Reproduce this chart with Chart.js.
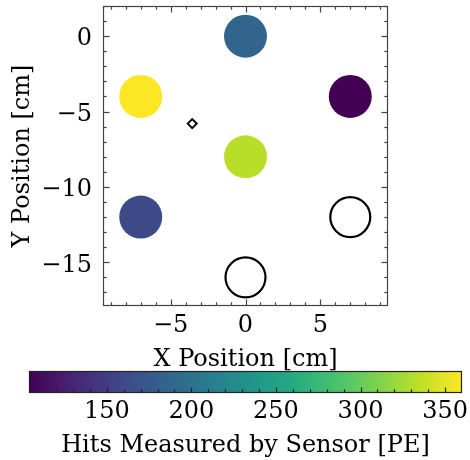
<!DOCTYPE html>
<html><head><meta charset="utf-8">
<script src="https://cdn.jsdelivr.net/npm/chart.js@4/dist/chart.umd.min.js"></script>
<style>
html,body{margin:0;padding:0;background:#fff;}
#wrap{position:relative;width:470px;height:460px;overflow:hidden;background:#fff;}
canvas{position:absolute;left:0;}
</style></head><body>
<div id="wrap">
<canvas id="main" width="470" height="380" style="top:0px"></canvas>
<canvas id="cbar" width="470" height="100" style="top:360px"></canvas>
</div>
<script>
// ---- data ----
const sensorX = [0, -7, 7, 0, -7];
const sensorY = [0, -4, -4, -8, -12];
const sensorHits = [187, 360, 104, 333, 161];
const emptyX = [7, 0];
const emptyY = [-12, -16];
const markerX = [-3.56];
const markerY = [-5.8];
const xTicks = [-5, 0, 5];
const yTicks = [0, -5, -10, -15];
const cbTicks = [150, 200, 250, 300, 350];
const xRange = [-9.52, 9.52];
const yRange = [-17.9, 2.0];
const xMinorStep = 1, yMinorStep = 1, cbMinorStep = 10;

// ---- colormap ----
const VIRIDIS = ['#440154','#482475','#414487','#355f8d','#2a788e','#21918c','#22a884','#44bf70','#7ad151','#bddf26','#fde725'];
function hexRgb(h){return [parseInt(h.slice(1,3),16),parseInt(h.slice(3,5),16),parseInt(h.slice(5,7),16)];}
function viridis(t){
  t=Math.max(0,Math.min(1,t));
  const n=VIRIDIS.length-1;
  const i=Math.min(n-1,Math.floor(t*n));
  const f=t*n-i;
  const a=hexRgb(VIRIDIS[i]), b=hexRgb(VIRIDIS[i+1]);
  const c=a.map((v,k)=>Math.round(v+(b[k]-v)*f));
  return `rgb(${c[0]},${c[1]},${c[2]})`;
}
const hMin = Math.min(...sensorHits), hMax = Math.max(...sensorHits);

const FONT = {family:"'DejaVu Serif', serif", size:24, lineHeight:1.2};
const fmt = v => (v<0 ? '\u2212'+Math.abs(v) : String(v));

function drawTick(ctx,x1,y1,x2,y2){ctx.beginPath();ctx.moveTo(x1,y1);ctx.lineTo(x2,y2);ctx.stroke();}

const framePlugin = {
  id:'frame',
  afterDraw(chart){
    const {ctx, chartArea:a, scales:{x,y}} = chart;
    ctx.save();
    ctx.strokeStyle='#444'; ctx.lineWidth=1.2;
    const L=Math.round(a.left)+0.5, R=Math.round(a.right)-0.5, T=Math.round(a.top)+0.5, B=Math.round(a.bottom)-0.5;
    ctx.strokeRect(L,T,R-L,B-T);
    const MAJ=6, MIN=3.2;
    for(let v=Math.ceil(x.min/xMinorStep)*xMinorStep; v<=x.max; v+=xMinorStep){
      const px=Math.round(x.getPixelForValue(v))+0.5;
      const len = xTicks.includes(v)?MAJ:MIN;
      drawTick(ctx,px,B,px,B-len); drawTick(ctx,px,T,px,T+len);
    }
    for(let v=Math.ceil(y.min/yMinorStep)*yMinorStep; v<=y.max; v+=yMinorStep){
      const py=Math.round(y.getPixelForValue(v))+0.5;
      const len = yTicks.includes(v)?MAJ:MIN;
      drawTick(ctx,L,py,L+len,py); drawTick(ctx,R,py,R-len,py);
    }
    ctx.restore();
  }
};

function noPad(s){s.paddingTop=0;s.paddingBottom=0;s.paddingLeft=0;s.paddingRight=0;}

new Chart(document.getElementById('main'), {
  type:'scatter',
  data:{datasets:[
    {data: sensorX.map((v,i)=>({x:v,y:sensorY[i]})),
     backgroundColor: sensorHits.map(h=>viridis((h-hMin)/(hMax-hMin))),
     borderWidth:0, pointRadius:21.5, pointHoverRadius:21.5},
    {data: emptyX.map((v,i)=>({x:v,y:emptyY[i]})),
     backgroundColor:'rgba(0,0,0,0)', borderColor:'#000', borderWidth:2.2, pointRadius:20, pointHoverRadius:20},
    {data: markerX.map((v,i)=>({x:v,y:markerY[i]})),
     pointStyle:'rectRot', backgroundColor:'#fff', borderColor:'#000', borderWidth:2, pointRadius:4.5, pointHoverRadius:4.5}
  ]},
  options:{
    responsive:false, animation:false, devicePixelRatio:1, events:[],
    layout:{autoPadding:false, padding:{top:6,right:82,left:0,bottom:0}},
    plugins:{legend:{display:false}, tooltip:{enabled:false}},
    scales:{
      x:{type:'linear', min:xRange[0], max:xRange[1],
         afterFit(s){s.height=74; noPad(s);},
         afterBuildTicks(s){s.ticks=xTicks.map(v=>({value:v}));},
         grid:{display:false, drawTicks:false}, border:{display:false},
         ticks:{font:FONT, color:'#000', padding:5.6, maxRotation:0, autoSkip:false, callback:fmt},
         title:{display:true, text:'X Position [cm]', font:FONT, color:'#000', padding:{top:0,bottom:6}}},
      y:{type:'linear', min:yRange[0], max:yRange[1],
         afterFit(s){s.width=103; noPad(s);},
         afterBuildTicks(s){s.ticks=yTicks.map(v=>({value:v}));},
         grid:{display:false, drawTicks:false}, border:{display:false},
         ticks:{font:FONT, color:'#000', padding:11, labelOffset:3, autoSkip:false, callback:fmt},
         title:{display:true, text:'Y Position [cm]', font:FONT, color:'#000', padding:{top:8,bottom:0}}}
    }
  },
  plugins:[framePlugin]
});

const cbarPlugin = {
  id:'cbar',
  beforeDatasetsDraw(chart){
    const {ctx, chartArea:a, scales:{x}} = chart;
    ctx.save();
    const g = ctx.createLinearGradient(a.left,0,a.right,0);
    VIRIDIS.forEach((c,i)=>g.addColorStop(i/(VIRIDIS.length-1),c));
    ctx.fillStyle=g;
    ctx.fillRect(a.left,a.top,a.right-a.left,a.bottom-a.top);
    ctx.strokeStyle='#222'; ctx.lineWidth=1.2;
    const L=Math.round(a.left)+0.5, R=Math.round(a.right)-0.5, T=Math.round(a.top)+0.5, B=Math.round(a.bottom)-0.5;
    ctx.strokeRect(L,T,R-L,B-T);
    for(let v=Math.ceil(x.min/cbMinorStep)*cbMinorStep; v<x.max; v+=cbMinorStep){
      const px=Math.round(x.getPixelForValue(v))+0.5;
      const len = cbTicks.includes(v)?5:3.2;
      drawTick(ctx,px,B,px,B-len);
    }
    ctx.restore();
  }
};

new Chart(document.getElementById('cbar'), {
  type:'scatter',
  data:{datasets:[{data:[]}]},
  options:{
    responsive:false, animation:false, devicePixelRatio:1, events:[],
    layout:{autoPadding:false, padding:{top:11,right:8,left:29,bottom:0}},
    plugins:{legend:{display:false}, tooltip:{enabled:false}},
    scales:{
      x:{type:'linear', min:hMin, max:hMax,
         afterFit(s){s.height=67; noPad(s);},
         afterBuildTicks(s){s.ticks=cbTicks.map(v=>({value:v}));},
         grid:{display:false, drawTicks:false}, border:{display:false},
         ticks:{font:FONT, color:'#000', padding:4.3, maxRotation:0, autoSkip:false},
         title:{display:true, text:'Hits Measured by Sensor [PE]', font:FONT, color:'#000', padding:{top:0,bottom:0}}},
      y:{display:false, min:0, max:1}
    }
  },
  plugins:[cbarPlugin]
});
</script>
</body></html>
